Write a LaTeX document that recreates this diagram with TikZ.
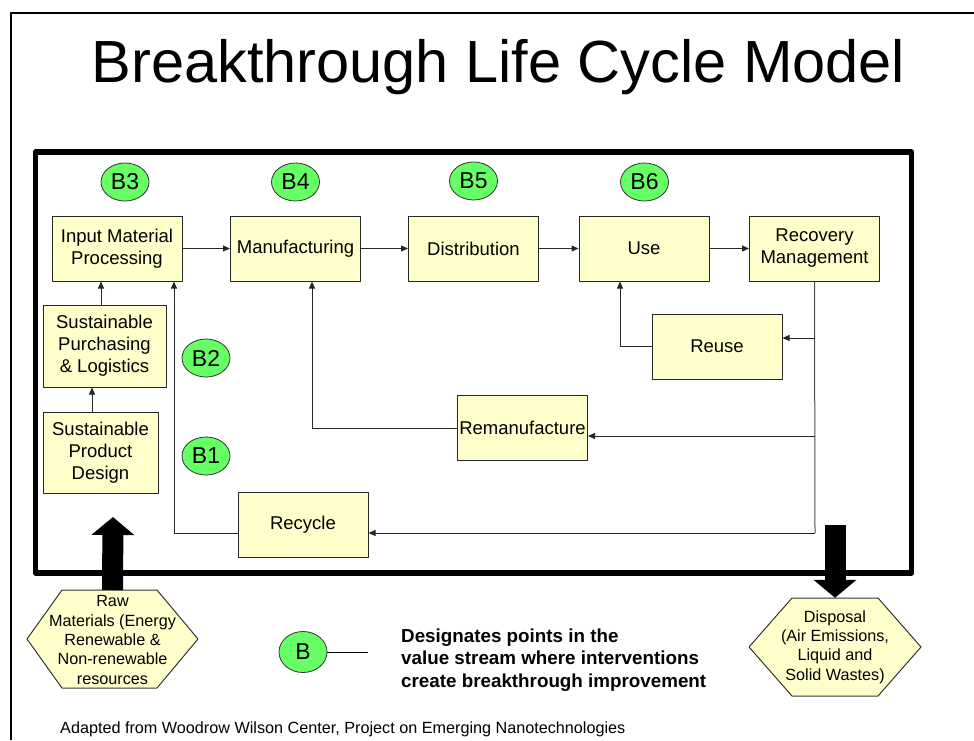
\documentclass[tikz,border=0pt]{standalone}
\usepackage{fontspec}
\setmainfont{Liberation Sans}
\usetikzlibrary{arrows.meta,shapes.geometric,calc}

\definecolor{boxfill}{HTML}{FFFFCC}
\definecolor{bgreen}{HTML}{66FF66}

\tikzset{
	stage/.style={draw=black!85, line width=1pt, fill=boxfill, minimum width=130, minimum height=65, inner sep=2, align=center, font=\fontsize{18.5}{22}\selectfont},
	bpoint/.style={ellipse, draw=black!80, line width=0.8pt, fill=bgreen, minimum width=48, minimum height=38, inner sep=0, font=\fontsize{23}{25}\selectfont},
	flow/.style={->, line width=1pt, draw=black!85},
	hexa/.style={draw=black!80, line width=1pt, fill=boxfill},
	hextext/.style={align=center, minimum height=98, inner sep=0, font=\fontsize{16.2}{19.4}\selectfont},
	bigarrow/.style={line width=21pt, -{Triangle[length=18pt,width=42pt]}}
}

\begin{document}
\begin{tikzpicture}[x=1pt, y=-1pt, line join=round, >={Triangle[length=7pt,width=6pt]}]
			\useasboundingbox (0,0) rectangle (974,740);
			\draw[line width=1.5pt] (11,740)--(11,13)--(974,13);
			\node[anchor=base, font=\fontsize{59.5}{70}\selectfont] (title) at (498.5,82) {Breakthrough Life Cycle Model};
			\draw[line width=5.5pt] (35.5,152) rectangle (911.5,573);
			\node[stage] (inp) at (117,248.5) {Input Material\\Processing};
			\node[stage] (manu) at (295.5,248.5) {Manufacturing};
			\node[stage] (dist) at (473.5,248.5) {Distribution};
			\node[stage] (use) at (644,248.5) {Use};
			\node[stage] (rec) at (814.5,248.5) {Recovery\\Management};
			\node[stage, minimum width=123, minimum height=82] (purch) at (104.5,346) {Sustainable\\Purchasing\\\& Logistics};
			\node[stage, minimum width=115, minimum height=81] (design) at (100.5,452.5) {Sustainable\\Product\\Design};
			\node[stage] (reuse) at (717,346.5) {Reuse};
			\node[stage, inner sep=0] (reman) at (522.5,428) {Remanufacture};
			\node[stage] (recyc) at (303,525) {Recycle};
			\foreach \name/\x/\y in {B3/125/182, B4/295.5/182, B5/473.5/181, B6/644.5/182, B2/206/358, B1/206/456}
				\node[bpoint] (\name) at (\x,\y) {\name};
			\draw[flow] (inp.east)--(manu.west);
			\draw[flow] (manu.east)--(dist.west);
			\draw[flow] (dist.east)--(use.west);
			\draw[flow] (use.east)--(rec.west);
			\draw[flow] ($(purch.north)+(-3.5,0)$)--($(inp.south)+(-16,0)$);
			\draw[flow] ($(design.north)+(-8.5,0)$)--($(purch.south)+(-12.5,0)$);
			\coordinate (j1) at (815,338);
			\coordinate (j2) at (815,436);
			\coordinate (j3) at (815,533);
			\draw[line width=1pt, draw=black!70] (rec.south)--(j3);
			\draw[flow] (j1)--(j1 -| reuse.east);
			\draw[flow] (j2)--(j2 -| reman.east);
			\draw[flow] (j3)--(j3 -| recyc.east);
			\draw[flow] (reuse.west) -| ($(use.south)+(-24,0)$);
			\draw[flow] (reman.west) -| ($(manu.south)+(16.5,0)$);
			\draw[flow] ($(recyc.west)+(0,8)$) -| ($(inp.south)+(57,0)$);
			\draw[hexa] (62,590)--(157,590)--(198,639)--(157,688)--(62,688)--(27,639)--cycle;
			\node[hextext] (raw) at (112.5,640) {Raw\\Materials (Energy\\Renewable \&\\Non-renewable\\resources};
			\draw[hexa] (792,598)--(878,598)--(921,647)--(878,696)--(792,696)--(749,647)--cycle;
			\node[hextext] (disp) at (835,647) {Disposal\\(Air Emissions,\\Liquid and\\Solid Wastes)};
			\coordinate (rawtip) at (113,517);
			\coordinate (disptail) at (835,525);
			\draw[bigarrow] (112.5,590)--(rawtip);
			\draw[bigarrow] (disptail)--(disp.north);
			\node[bpoint, minimum height=41] (bkey) at (303,652) {B};
			\coordinate (keyend) at (368,652);
			\draw[line width=1pt] (bkey.east)--(keyend);
			\node[anchor=west, align=left, inner sep=0, font=\bfseries\fontsize{18.8}{22.5}\selectfont] (note) at (401,660) {Designates points in the\\value stream where interventions\\create breakthrough improvement};
			\node[anchor=base west, inner sep=0, font=\fontsize{16.2}{19}\selectfont] (src) at (60,733) {Adapted from Woodrow Wilson Center, Project on Emerging Nanotechnologies};
		\end{tikzpicture}
\end{document}
